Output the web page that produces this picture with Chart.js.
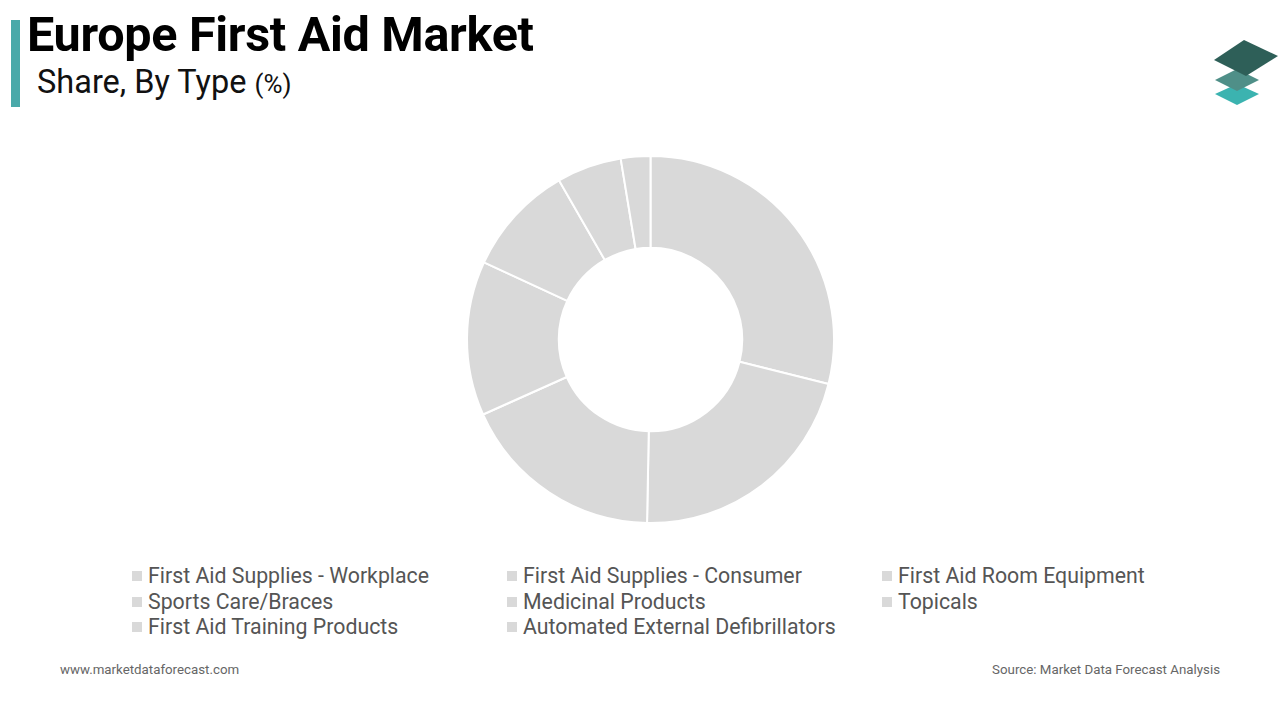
<!DOCTYPE html>
<html>
<head>
<meta charset="utf-8">
<script src="https://cdn.jsdelivr.net/npm/chart.js@4.4.1/dist/chart.umd.min.js"></script>
<style>
  body { margin: 0; width: 1280px; height: 720px; background: #fff; font-family: Roboto, "Noto Sans", sans-serif; position: relative; overflow: hidden; }
  #bar { position: absolute; left: 11px; top: 20px; width: 9px; height: 87px; background: #4aa9a9; }
  #title { position: absolute; left: 27px; top: 6px; font-size: 48.5px; font-weight: bold; color: #000; letter-spacing: -0.3px; }
  #sub { position: absolute; left: 37px; top: 63px; font-size: 32.5px; color: #111; }
  #sub span { font-size: 26px; }
  #wrap { position: absolute; left: 464px; top: 153px; width: 373px; height: 373px; }
  #legend { position: absolute; left: 132px; top: 563px; width: 1100px; }
  .item { position: absolute; font-size: 21.3px; color: #555; white-space: nowrap; }
  .item i { display: inline-block; width: 10px; height: 10px; background: #d9d9d9; margin-right: 6px; vertical-align: 2px; }
  #foot1 { position: absolute; left: 60px; top: 662px; font-size: 13.3px; color: #666; }
  #foot2 { position: absolute; right: 60px; top: 662px; font-size: 13.3px; color: #666; }
  #logo { position: absolute; left: 1206px; top: 36px; }
</style>
</head>
<body>
<div id="bar"></div>
<div id="title">Europe First Aid Market</div>
<div id="sub">Share, By Type <span>(%)</span></div>
<svg id="logo" width="80" height="75" viewBox="0 0 80 75">
  <polygon points="9,58 31,48 53,58 31,69" fill="#3bb3b0"/>
  <polygon points="9,44 31,33 53,44 31,55" fill="#4f8f88"/>
  <polygon points="8,24 38,4 72,20 40,40" fill="#2e5f58"/>
</svg>
<div id="wrap"><canvas id="donut"></canvas></div>
<div id="legend"></div>
<div id="foot1">www.marketdataforecast.com</div>
<div id="foot2">Source: Market Data Forecast Analysis</div>
<script>
var types = ["First Aid Supplies - Workplace", "First Aid Supplies - Consumer", "First Aid Room Equipment",
             "Sports Care/Braces", "Medicinal Products", "Topicals",
             "First Aid Training Products", "Automated External Defibrillators"];
var share = [28.9, 21.4, 18.0, 13.6, 9.8, 5.7, 2.6, 0];

var legend = document.getElementById("legend");
for (let index = 0; index < types.length; index++)
{
    var d = document.createElement("div");
    d.className = "item";
    d.style.left = (index % 3) * 375 + "px";
    d.style.top = Math.floor(index / 3) * 25.5 + "px";
    d.innerHTML = "<i></i>" + types[index];
    legend.appendChild(d);
}

new Chart(document.getElementById("donut"), {
    type: 'doughnut',
    data: {
      labels: types,
      datasets: [{
        data: share,
        backgroundColor: "#d9d9d9",
        borderColor: "#ffffff",
        borderWidth: 2
      }]
    },
    options: {
      responsive: true,
      maintainAspectRatio: false,
      animation: false,
      cutout: '50%',
      layout: { padding: 2 },
      plugins: { legend: { display: false }, tooltip: { enabled: false } }
    }
});
</script>
</body>
</html>
